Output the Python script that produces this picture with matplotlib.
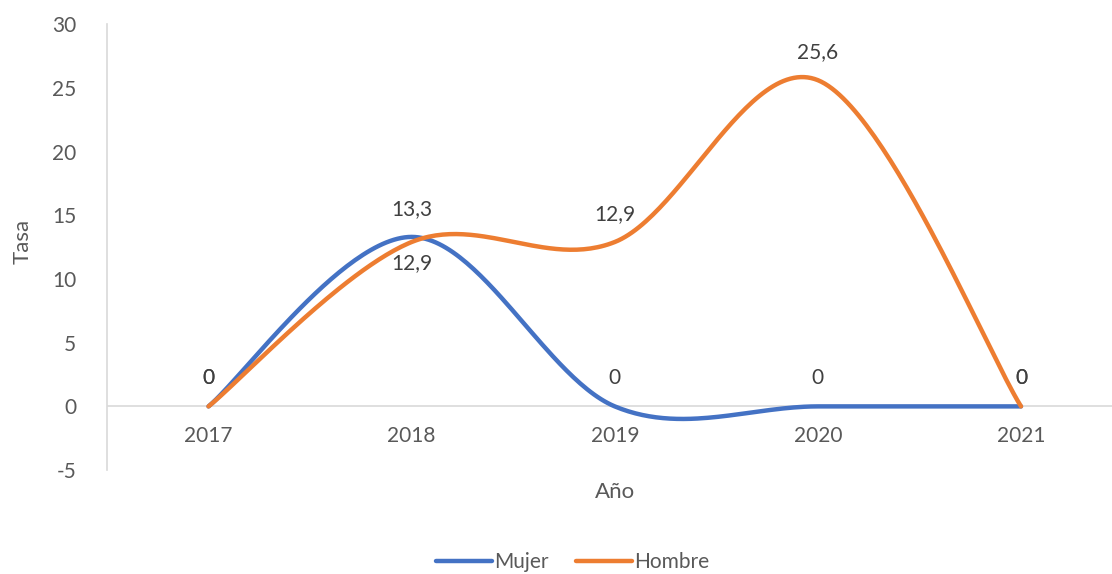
import numpy as np
import matplotlib.pyplot as plt

# Datos
anios = ['2017', '2018', '2019', '2020', '2021']
mujer = [0, 13.3, 0, 0, 0]
hombre = [0, 12.9, 12.9, 25.6, 0]

azul = '#4472C4'
naranja = '#ED7D31'
gris_texto = '#595959'

plt.rcParams['font.family'] = ['Lato', 'DejaVu Sans']
plt.rcParams['axes.unicode_minus'] = False


def suavizar(xs, ys, n=60):
    # curva suavizada tipo Excel (Bezier con puntos de control Catmull-Rom)
    p = np.column_stack([xs, ys]).astype(float)
    p = np.vstack([p[0], p, p[-1]])
    out = []
    t = np.linspace(0, 1, n)[:, None]
    for i in range(1, len(p) - 2):
        p0, p1, p2, p3 = p[i - 1], p[i], p[i + 1], p[i + 2]
        c1 = p1 + (p2 - p0) / 6
        c2 = p2 - (p3 - p1) / 6
        seg = ((1 - t) ** 3) * p1 + 3 * ((1 - t) ** 2) * t * c1 + 3 * (1 - t) * t ** 2 * c2 + t ** 3 * p2
        out.append(seg if i == 1 else seg[1:])
    out = np.vstack(out)
    return out[:, 0], out[:, 1]


x = np.arange(len(anios))

fig = plt.figure(figsize=(11.12, 5.74), dpi=100)
ax = fig.add_axes([0.0962, 0.181, 0.9038, 0.777])

xm, ym = suavizar(x, mujer)
xh, yh = suavizar(x, hombre)
ax.plot(xm, ym, color=azul, lw=3.2, solid_capstyle='round', label='Mujer', zorder=3)
ax.plot(xh, yh, color=naranja, lw=3.2, solid_capstyle='round', label='Hombre', zorder=4)

# etiquetas de datos
fs = 15
for i, v in enumerate(mujer):
    ax.annotate(f'{v:g}'.replace('.', ','), (x[i], v), xytext=(0, 13), textcoords='offset points',
                ha='center', va='bottom', fontsize=fs, color='#404040')
for i, v in enumerate(hombre):
    dy = -8 if i == 1 else 13
    va = 'top' if i == 1 else 'bottom'
    ax.annotate(f'{v:g}'.replace('.', ','), (x[i], v), xytext=(0, dy), textcoords='offset points',
                ha='center', va=va, fontsize=fs, color='#404040')

ax.set_xlim(-0.5, 4.448)
ax.set_ylim(-5, 30)
ax.set_yticks(range(-5, 31, 5))
ax.set_xticks([])

for s in ['top', 'right', 'bottom']:
    ax.spines[s].set_visible(False)
ax.spines['left'].set_color('#D9D9D9')
ax.spines['left'].set_linewidth(1.2)
ax.axhline(0, color='#D9D9D9', lw=1.2, zorder=1)

ax.tick_params(axis='y', length=0, pad=22, labelsize=fs, labelcolor=gris_texto)

for i, a in enumerate(anios):
    ax.annotate(a, (x[i], 0), xytext=(0, -14), textcoords='offset points',
                ha='center', va='top', fontsize=fs, color=gris_texto)

fig.text(0.553, 0.143, 'Año', ha='center', va='center', fontsize=16, color=gris_texto)
fig.text(0.02, 0.58, 'Tasa', ha='center', va='center', rotation=90, fontsize=16, color=gris_texto)

fig.legend(loc='center', bbox_to_anchor=(0.515, 0.021), ncol=2, frameon=False, fontsize=fs,
           handlelength=2.7, handletextpad=0.1, columnspacing=1.3, labelcolor=gris_texto)

fig.savefig('out.png', dpi=100)
